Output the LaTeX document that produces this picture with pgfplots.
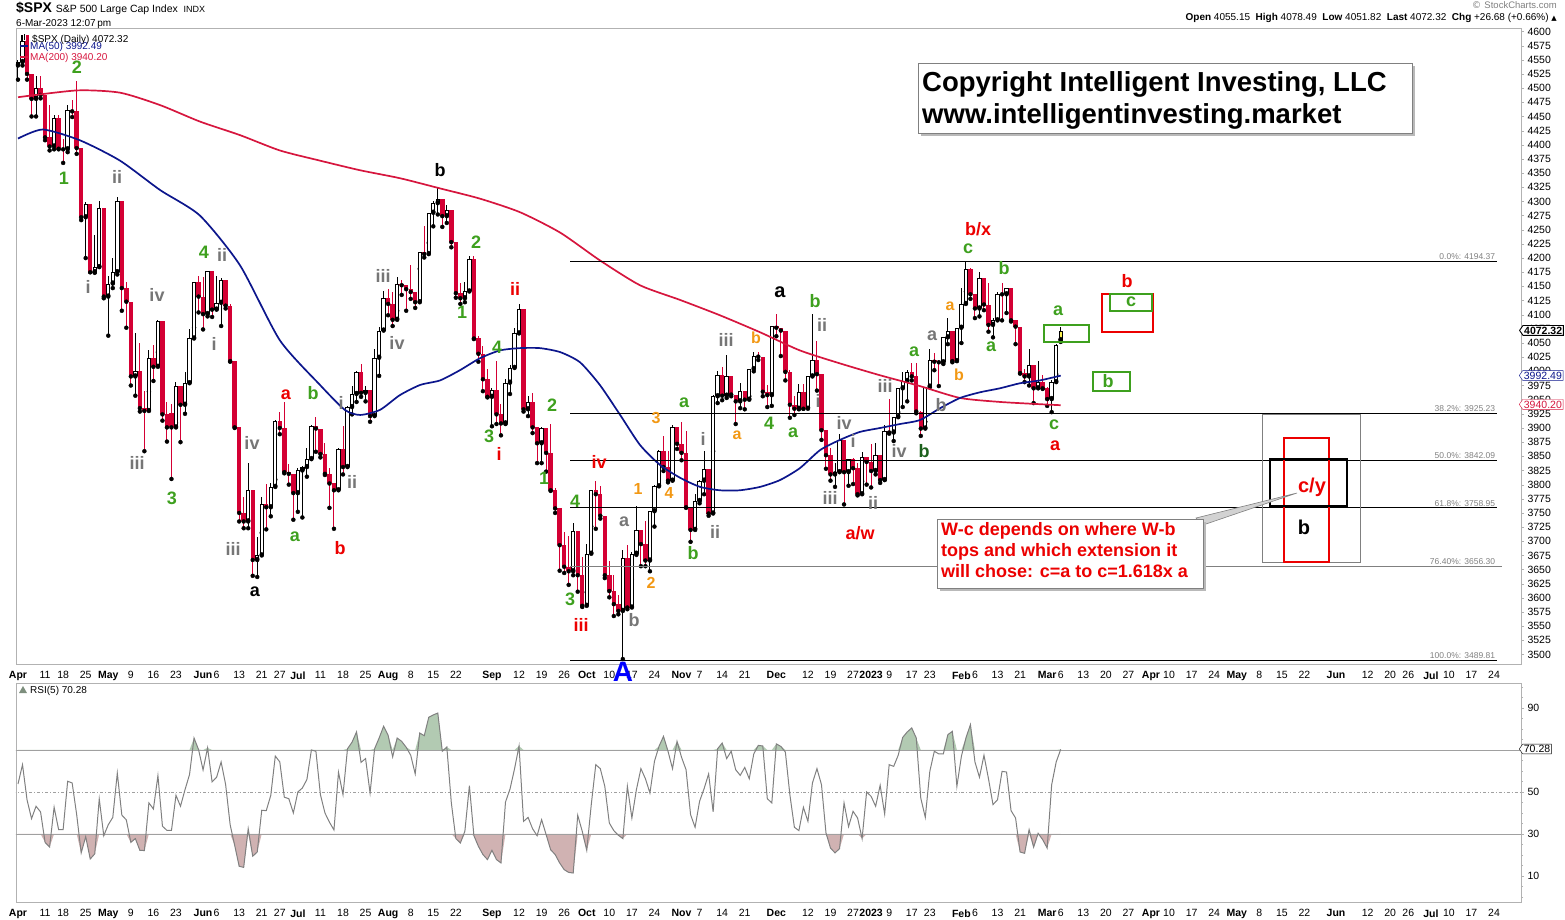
\documentclass[border=0pt]{standalone}
\usepackage{pgfplots}
\pgfplotsset{compat=1.18}
\usepackage{pgfplotstable}
\usetikzlibrary{shapes.symbols}
\usepackage{fontspec}
\setmainfont{Liberation Sans}
\newfontfamily\djv{DejaVu Sans}

\definecolor{cred}{RGB}{212,0,52}
\definecolor{ma50}{RGB}{12,22,140}
\definecolor{ma200}{RGB}{214,22,62}
\definecolor{wgreen}{RGB}{62,160,30}
\definecolor{wgrey}{RGB}{118,118,118}
\definecolor{wred}{RGB}{236,0,0}
\definecolor{worange}{RGB}{242,152,20}
\definecolor{wdgreen}{RGB}{28,96,28}
\definecolor{framec}{RGB}{178,178,178}
\definecolor{rsigreen}{RGB}{178,202,178}
\definecolor{rsired}{RGB}{208,178,178}
\definecolor{lastbar}{RGB}{250,240,80}

% daily $SPX candles (index = trading day from 1-Apr-2022), open = prior close
\pgfplotstableread{
i o h l c
0 4540 4550 4515 4546
1 4546 4593 4540 4583
2 4583 4590 4515 4525
3 4525 4504 4450 4481
4 4481 4521 4450 4500
5 4500 4521 4482 4488
6 4488 4463 4408 4413
7 4413 4471 4390 4397
8 4397 4453 4392 4447
9 4447 4453 4392 4393
10 4393 4410 4368 4392
11 4392 4471 4387 4462
12 4462 4479 4449 4459
13 4459 4513 4384 4394
14 4394 4385 4267 4272
15 4272 4299 4200 4296
16 4296 4279 4175 4175
17 4175 4240 4174 4184
18 4184 4300 4185 4288
19 4288 4269 4129 4132
20 4132 4169 4063 4155
21 4155 4200 4147 4175
22 4175 4308 4171 4300
23 4300 4270 4107 4147
24 4147 4158 4077 4123
25 4123 4082 3975 3991
26 3991 4068 3957 4001
27 4001 4050 3929 3935
28 3935 3965 3859 3930
29 3930 4038 3964 4024
30 4024 4047 3983 4008
31 4008 4091 4034 4089
32 4089 4052 3913 3924
33 3924 3946 3876 3901
34 3927 3943 3810 3901
35 3901 3981 3909 3974
36 3974 3955 3875 3941
37 3941 3999 3925 3979
38 3979 4075 3984 4058
39 4058 4158 4077 4158
40 4158 4168 4104 4132
41 4132 4166 4074 4101
42 4101 4178 4097 4177
43 4177 4143 4096 4109
44 4109 4169 4110 4121
45 4121 4164 4080 4161
46 4161 4150 4111 4116
47 4116 4119 4017 4018
48 4018 3976 3900 3901
49 3901 3838 3735 3750
50 3750 3779 3723 3735
51 3735 3838 3723 3790
52 3790 3728 3639 3667
53 3667 3708 3637 3675
54 3675 3779 3715 3765
55 3765 3801 3721 3760
56 3760 3802 3744 3796
57 3796 3914 3809 3912
58 3912 3928 3889 3900
59 3900 3945 3820 3822
60 3822 3837 3800 3819
61 3819 3818 3738 3785
62 3785 3829 3752 3825
63 3825 3832 3742 3831
64 3831 3865 3814 3845
65 3845 3906 3858 3903
66 3903 3919 3858 3899
67 3899 3880 3848 3854
68 3854 3874 3817 3819
69 3819 3829 3759 3802
70 3802 3796 3722 3790
71 3790 3864 3817 3863
72 3863 3903 3818 3831
73 3831 3939 3860 3937
74 3937 3975 3924 3960
75 3960 4000 3946 3999
76 3999 4013 3955 3962
77 3962 3975 3947 3967
78 3967 3954 3911 3921
79 3921 4040 3951 4024
80 4024 4079 3992 4072
81 4072 4141 4080 4130
82 4130 4145 4099 4119
83 4119 4140 4080 4091
84 4091 4167 4107 4155
85 4155 4161 4135 4152
86 4152 4151 4107 4145
87 4145 4187 4128 4140
88 4140 4138 4112 4122
89 4122 4211 4181 4210
90 4210 4257 4201 4207
91 4207 4280 4227 4280
92 4280 4301 4256 4297
93 4297 4325 4277 4305
94 4305 4303 4255 4274
95 4274 4293 4262 4284
96 4284 4258 4219 4228
97 4228 4195 4130 4138
98 4138 4156 4119 4129
99 4129 4157 4122 4141
100 4141 4203 4154 4199
101 4199 4203 4057 4058
102 4058 4062 4017 4031
103 4031 4044 3965 3986
104 3986 4005 3954 3955
105 3955 3970 3903 3967
106 3967 4018 3907 3924
107 3924 3942 3887 3908
108 3908 3987 3907 3980
109 3980 4011 3960 4006
110 4006 4077 4023 4067
111 4067 4119 4084 4110
112 4110 4062 3929 3933
113 3933 3956 3921 3946
114 3946 3961 3891 3901
115 3901 3880 3838 3873
116 3873 3901 3838 3900
117 3900 3876 3823 3856
118 3856 3907 3789 3790
119 3790 3794 3750 3758
120 3758 3727 3648 3693
121 3693 3716 3644 3655
122 3655 3710 3623 3647
123 3647 3733 3640 3719
124 3719 3687 3611 3640
125 3640 3672 3584 3586
126 3586 3696 3610 3678
127 3678 3791 3726 3791
128 3791 3807 3722 3783
129 3783 3798 3740 3745
130 3745 3712 3635 3640
131 3640 3665 3601 3612
132 3612 3640 3568 3589
133 3589 3606 3571 3577
134 3577 3685 3492 3670
135 3670 3694 3580 3583
136 3583 3681 3633 3678
137 3678 3763 3676 3720
138 3720 3720 3656 3695
139 3695 3736 3656 3666
140 3666 3753 3647 3753
141 3753 3799 3726 3797
142 3797 3862 3799 3859
143 3859 3886 3824 3831
144 3831 3859 3804 3807
145 3807 3906 3808 3901
146 3901 3893 3863 3872
147 3872 3911 3843 3856
148 3856 3894 3759 3760
149 3760 3750 3699 3720
150 3720 3783 3722 3771
151 3771 3808 3767 3807
152 3807 3860 3783 3828
153 3828 3818 3745 3749
154 3749 3958 3859 3956
155 3956 4001 3944 3993
156 3993 4008 3949 3957
157 3957 4028 3953 3992
158 3992 3984 3956 3959
159 3959 3954 3907 3947
160 3947 3979 3935 3965
161 3965 3962 3933 3950
162 3950 4005 3956 4004
163 4004 4034 4000 4027
164 4027 4035 4020 4026
165 4026 4013 3956 3964
166 3964 3976 3937 3958
167 3958 4080 3939 4080
168 4080 4101 4062 4077
169 4077 4076 4027 4072
170 4072 4052 3984 3999
171 3999 4002 3918 3941
172 3941 3957 3923 3934
173 3934 3977 3933 3964
174 3964 3978 3934 3934
175 3934 3991 3936 3991
176 3991 4101 3993 4020
177 4020 4053 3966 3995
178 3995 3947 3879 3896
179 3896 3876 3828 3852
180 3852 3864 3807 3818
181 3818 3839 3796 3822
182 3822 3889 3839 3878
183 3878 3877 3765 3822
184 3822 3846 3798 3845
185 3845 3847 3801 3829
186 3829 3838 3781 3783
187 3783 3858 3806 3849
188 3849 3840 3800 3840
189 3840 3872 3795 3824
190 3824 3874 3818 3853
191 3853 3839 3803 3808
192 3808 3906 3809 3895
193 3895 3951 3890 3892
194 3892 3919 3877 3919
195 3919 3970 3928 3970
196 3970 3998 3937 3983
197 3983 4003 3947 3999
198 3999 4015 3984 3991
199 3991 4015 3926 3929
200 3929 3930 3886 3899
201 3899 3973 3911 3973
202 3973 4039 3972 4020
203 4020 4033 4002 4017
204 4017 4020 3974 4016
205 4016 4061 4013 4060
206 4060 4095 4048 4071
207 4071 4063 4016 4018
208 4018 4077 4021 4077
209 4077 4148 4050 4119
210 4119 4195 4141 4180
211 4180 4183 4128 4136
212 4136 4124 4094 4111
213 4111 4176 4097 4164
214 4164 4154 4108 4118
215 4118 4156 4070 4082
216 4082 4095 4060 4090
217 4090 4140 4096 4137
218 4137 4156 4090 4136
219 4136 4148 4103 4148
220 4148 4136 4088 4090
221 4090 4084 4048 4079
222 4079 4050 3996 3997
223 3997 4004 3981 3991
224 3991 4040 3975 4012
225 4012 3982 3944 3970
226 3970 4018 3973 3982
227 3982 3994 3969 3970
228 3970 3972 3939 3951
229 3951 3984 3928 3981
230 3981 4048 3995 4046
231 4055 4078 4052 4072
}\spx

% MA(50) read off the chart
\pgfplotstableread{
i m
0 4411
5.5 4427
13.7 4408
22.6 4372
31.5 4320
40.3 4275
49.2 4187
58.0 4055
66.9 3976
72.4 3932
75.8 3923
80.2 3932
84.6 3958
89.1 3976
93.5 3984
97.9 4002
102.3 4023
106.8 4037
111.2 4041
115.6 4041
120.1 4034
124.5 4016
128.9 3976
133.4 3923
137.8 3870
142.2 3835
146.7 3812
151.1 3796
155.5 3790
159.9 3790
164.4 3796
168.8 3808
173.2 3829
177.7 3861
182.1 3879
186.5 3893
191.0 3900
195.4 3907
199.8 3914
204.3 3935
208.7 3953
213.1 3963
217.5 3970
222.0 3979
226.4 3984
231 3992.49
}\maFifty

% MA(200) read off the chart
\pgfplotstableread{
i m
0 4484
13.1 4496
22.6 4492
31.5 4470
40.3 4441
49.2 4417
58.0 4390
66.9 4372
75.8 4355
84.6 4341
93.5 4323
102.3 4305
111.2 4281
120.1 4245
128.9 4196
137.8 4152
146.7 4126
155.5 4099
164.4 4069
173.2 4037
182.1 4014
191.0 3993
199.8 3974
208.7 3953
217.5 3946
226.4 3942
231 3940.20
}\maTwoHundred

% RSI(5)
\pgfplotstableread{
i r
0 53.8
1 63.0
2 46.3
3 37.3
4 43.2
5 40.5
6 26.0
7 23.8
8 42.7
9 32.1
10 32.1
11 55.1
12 54.3
13 39.2
14 21.0
15 28.7
16 18.1
17 20.5
18 46.7
19 29.2
20 34.4
21 37.9
22 59.0
23 39.0
24 36.7
25 26.0
26 27.8
27 22.2
28 22.1
29 44.8
30 41.9
31 57.8
32 33.7
33 31.7
34 31.7
35 48.4
36 43.2
37 51.1
38 58.3
39 75.7
40 70.2
41 60.5
42 71.0
43 54.8
44 57.0
45 64.3
46 53.5
47 34.4
48 24.6
49 14.6
50 14.1
51 32.5
52 19.4
53 21.4
54 41.3
55 41.1
56 48.4
57 67.1
58 64.3
59 47.5
60 46.8
61 40.0
62 50.0
63 51.9
64 55.9
65 70.0
66 69.4
67 48.7
68 40.0
69 35.6
70 31.9
71 59.4
72 48.7
73 70.6
74 73.7
75 78.6
76 64.1
77 65.9
78 49.5
79 70.6
80 75.7
81 81.3
82 77.0
83 66.7
84 75.7
85 74.1
86 71.3
87 67.5
88 58.6
89 78.1
90 76.8
91 85.6
92 86.7
93 87.6
94 69.4
95 71.4
96 44.8
97 27.8
98 25.7
99 31.3
100 53.0
101 29.2
102 24.1
103 20.2
104 17.8
105 22.2
106 17.8
107 16.2
108 45.2
109 51.4
110 61.0
111 71.9
112 36.0
113 37.9
114 32.5
115 29.2
116 36.8
117 29.7
118 22.5
119 20.2
120 16.2
121 13.0
122 11.7
123 11.4
124 38.9
125 31.3
126 22.2
127 44.0
128 63.0
129 61.1
130 52.7
131 35.2
132 31.6
133 29.4
134 27.8
135 52.7
136 37.6
137 51.1
138 61.1
139 56.3
140 49.5
141 64.6
142 71.7
143 76.5
144 69.4
145 61.1
146 74.1
147 66.5
148 60.6
149 39.2
150 33.2
151 45.6
152 51.6
153 58.6
154 40.5
155 70.6
156 73.3
157 65.9
158 69.4
159 60.6
160 57.9
161 61.7
162 56.3
163 68.1
164 72.2
165 71.9
166 46.8
167 44.8
168 72.9
169 71.7
170 69.0
171 48.7
172 33.2
173 31.6
174 42.7
175 36.0
176 54.3
177 61.1
178 53.5
179 30.5
180 23.3
181 21.0
182 23.0
183 44.8
184 33.5
185 40.8
186 37.6
187 27.8
188 50.0
189 47.9
190 43.2
191 53.2
192 39.5
193 63.0
194 62.2
195 67.5
196 76.0
197 78.6
198 80.5
199 75.7
200 47.1
201 37.9
202 59.8
203 69.4
204 68.1
205 68.1
206 77.3
207 78.9
208 52.7
209 67.0
210 75.7
211 82.1
212 64.3
213 57.0
214 67.5
215 56.3
216 44.0
217 46.3
218 59.8
219 59.5
220 41.1
221 37.6
222 21.4
223 20.8
224 32.1
225 23.7
226 30.3
227 27.3
228 23.3
229 53.5
230 64.3
231 70.28
}\rsitab

\pgfplotsset{
  datebar/.style={
    xmin=-0.443, xmax=332.97,
    xtick={0,6,10,15,20,25,30,35,41,44,49,54,58,62,67,72,77,82,87,92,97,105,111,116,121,126,131,136,141,147,151,156,161,168,175,180,185,189,193,198,202,209,212,217,222,228,231,236,241,246,251,255,260,265,270,275,280,285,292,299,304,308,313,317,322,327},
    xticklabels={\textbf{Apr},11,18,25,\textbf{May},9,16,23,\textbf{Jun},6,13,21,27,\textbf{Jul},11,18,25,\textbf{Aug},8,15,22,\textbf{Sep},12,19,26,\textbf{Oct},10,17,24,\textbf{Nov},7,14,21,\textbf{Dec},12,19,27,\textbf{2023},9,17,23,\textbf{Feb},6,13,21,\textbf{Mar},6,13,20,27,\textbf{Apr},10,17,24,\textbf{May},8,15,22,\textbf{Jun},12,20,26,\textbf{Jul},10,17,24},
    xtick style={draw=none},
    xticklabel style={font=\fontsize{10.5}{12}\selectfont, yshift=-1pt},
    axis line style={draw=framec},
    ytick pos=right, yticklabel pos=right,
    tick align=outside, major tick length=3pt,
    ytick style={draw=framec},
    yticklabel style={font=\fontsize{10.5}{12}\selectfont, /pgf/number format/1000 sep={}, /pgf/number format/assume math mode=true},
    scale only axis, width=1505pt, anchor=south west,
  },
  candle/.style={only marks, mark=none, error bars/y dir=plus, error bars/y explicit, error bars/error mark=none, error bars/error bar style={#1}},
}

\newcommand\wl[5][18]{\node[text=#2,font=\bfseries\fontsize{#1}{#1}\selectfont,inner sep=0pt] at ({#3pt},{919pt-#4pt}) {#5};}

\begin{document}
\begin{tikzpicture}
\useasboundingbox (0pt,0pt) rectangle (1565pt,919pt);

% ---------------- price panel ----------------
\begin{axis}[datebar,
  at={(16pt,255pt)}, height=636pt,
  ymin=3483.3, ymax=4606.2,
  ytick={3500,3525,...,4600},
  clip mode=individual]

% up candles: black hollow
\addplot[candle={line width=1pt, black}, restrict expr to domain={\thisrow{c}-\thisrow{o}}{0:100000}]
  table[x=i, y=l, y error plus expr=\thisrow{h}-\thisrow{l}]{\spx};
\addplot[candle={line width=4.4pt, black}, restrict expr to domain={\thisrow{c}-\thisrow{o}}{0:100000}]
  table[x=i, y=o, y error plus expr={max(\thisrow{c}-\thisrow{o},1.8)}]{\spx};
\addplot[candle={line width=2.4pt, white}, restrict expr to domain={\thisrow{c}-\thisrow{o}}{0:100000}]
  table[x=i, y expr=\thisrow{o}+1.77, y error plus expr={max(\thisrow{c}-\thisrow{o}-3.54,0)}]{\spx};
% current (intraday) bar highlighted
\addplot[candle={line width=2.4pt, lastbar}, restrict x to domain=230.5:231.5]
  table[x=i, y expr=\thisrow{o}+1.77, y error plus expr={max(\thisrow{c}-\thisrow{o}-3.54,0)}]{\spx};
% down candles: red filled
\addplot[candle={line width=1pt, cred}, restrict expr to domain={\thisrow{c}-\thisrow{o}}{-100000:-0.5}]
  table[x=i, y=l, y error plus expr=\thisrow{h}-\thisrow{l}]{\spx};
\addplot[candle={line width=4.4pt, cred}, restrict expr to domain={\thisrow{c}-\thisrow{o}}{-100000:-0.5}]
  table[x=i, y=c, y error plus expr=\thisrow{o}-\thisrow{c}]{\spx};

% moving averages
\addplot[ma200, line width=1.7pt, smooth, tension=0.4] table[x=i, y=m]{\maTwoHundred};
\addplot[ma50, line width=1.7pt, smooth, tension=0.4] table[x=i, y=m]{\maFifty};

% Fibonacci retracement levels
\addplot[black, line width=0.9pt] coordinates {(122.3,4194.37) (327.6,4194.37)};
\addplot[black, line width=0.9pt] coordinates {(122.3,3925.23) (327.6,3925.23)};
\addplot[black, line width=0.9pt] coordinates {(122.3,3842.09) (327.6,3842.09)};
\addplot[black, line width=0.9pt] coordinates {(122.3,3758.95) (327.6,3758.95)};
\addplot[gray, line width=0.9pt] coordinates {(122.3,3656.30) (328.8,3656.30)};
\addplot[black, line width=0.9pt] coordinates {(122.3,3489.81) (327.6,3489.81)};
\begin{scope}[every node/.style={anchor=south east, text=gray, font=\fontsize{8.5}{9}\selectfont, inner sep=1.5pt}]
\node at (axis cs:327.6,4194.37) {0.0\%: 4194.37};
\node at (axis cs:327.6,3925.23) {38.2\%: 3925.23};
\node at (axis cs:327.6,3842.09) {50.0\%: 3842.09};
\node at (axis cs:327.6,3758.95) {61.8\%: 3758.95};
\node at (axis cs:327.6,3656.30) {76.40\%: 3656.30};
\node at (axis cs:327.6,3489.81) {100.0\%: 3489.81};
\end{scope}
\end{axis}

% ---------------- RSI panel ----------------
\begin{axis}[datebar,
  at={(16pt,17pt)}, height=219pt,
  ymin=-2.4, ymax=101.9,
  ytick={10,30,50,90}, minor ytick={0,5,...,100},
  minor tick length=2pt, minor tick style={draw=framec}]
% overbought / oversold shading
\addplot[fill=rsigreen, draw=none] table[x=i, y expr={max(\thisrow{r},70)}]{\rsitab} |- (axis cs:0,70) -- cycle;
\addplot[fill=rsired, draw=none] table[x=i, y expr={min(\thisrow{r},30)}]{\rsitab} |- (axis cs:0,30) -- cycle;
\addplot[framec!90!black, line width=0.9pt] coordinates {(-1,70) (334,70)};
\addplot[framec!90!black, line width=0.9pt] coordinates {(-1,30) (334,30)};
\addplot[framec!90!black, line width=0.9pt, dash dot] coordinates {(-1,50) (334,50)};
\addplot[gray, line width=1pt] table[x=i, y=r]{\rsitab};
\end{axis}

% ---------------- header ----------------
\node[anchor=base west, inner sep=0pt] at (16pt,906pt) {\bfseries\fontsize{14}{14}\selectfont\$SPX\ \mdseries\fontsize{10.5}{12}\selectfont S\&P 500 Large Cap Index\ \ \fontsize{9}{10}\selectfont INDX};
\node[anchor=base west, inner sep=0pt] at (16pt,892pt) {\fontsize{10}{12}\selectfont 6-Mar-2023 12:07\,pm};
\node[anchor=base east, inner sep=0pt, text=gray] at (1557pt,910pt) {\fontsize{9.5}{10}\selectfont\djv ©\ \rmfamily StockCharts.com};
\node[anchor=base east, inner sep=0pt] at (1557pt,898pt) {\fontsize{10}{12}\selectfont\textbf{Open} 4055.15\ \ \textbf{High} 4078.49\ \ \textbf{Low} 4051.82\ \ \textbf{Last} 4072.32\ \ \textbf{Chg} +26.68 (+0.66\%) {\djv\fontsize{7}{8}\selectfont ▲}};

% legends
\draw[black, line width=0.8pt] (21pt,877pt) -- (21pt,884pt) (24pt,879pt) -- (24pt,885pt);
\fill[cred] (26pt,877pt) rectangle (29pt,884pt);
\node[anchor=base west, inner sep=0pt] at (32pt,876pt) {\fontsize{10}{12}\selectfont\$SPX (Daily) 4072.32};
\draw[ma50, line width=1.6pt] (20pt,873pt) -- (28pt,873pt);
\node[anchor=base west, inner sep=0pt, text=ma50] at (30pt,869pt) {\fontsize{10}{12}\selectfont MA(50) 3992.49};
\draw[ma200, line width=1.6pt] (20pt,862pt) -- (28pt,862pt);
\node[anchor=base west, inner sep=0pt, text=ma200] at (30pt,858pt) {\fontsize{10}{12}\selectfont MA(200) 3940.20};
\fill[rsigreen!70!black] (19pt,226pt) -- (23pt,233pt) -- (27pt,226pt) -- cycle;
\node[anchor=base west, inner sep=0pt] at (30pt,226pt) {\fontsize{10}{12}\selectfont RSI(5) 70.28};

% value tags on the right scale
\begin{scope}[every node/.style={signal, signal to=west, signal pointer angle=110, fill=white, inner sep=1.2pt, anchor=west, font=\fontsize{10.5}{12}\selectfont}]
\node[draw=black, line width=0.9pt] at (1519pt,{919pt-330.4pt}) {\bfseries 4072.32};
\node[draw=ma50, text=ma50] at (1519pt,{919pt-375.5pt}) {3992.49};
\node[draw=ma200, text=ma200] at (1519pt,{919pt-404.4pt}) {3940.20};
\node[draw=black] at (1519pt,{919pt-749pt}) {70.28};
\end{scope}

% copyright box
\fill[gray!55] (921pt,{919pt-136pt}) rectangle (1415pt,{919pt-66pt});
\draw[gray, fill=white] (918pt,{919pt-133pt}) rectangle (1412pt,{919pt-63pt});
\node[anchor=base west, inner sep=0pt] at (922pt,{919pt-92pt}) {\bfseries\fontsize{27.5}{28}\selectfont Copyright Intelligent Investing, LLC};
\node[anchor=base west, inner sep=0pt] at (922pt,{919pt-124pt}) {\bfseries\fontsize{27.5}{28}\selectfont www.intelligentinvesting.market};

% projection boxes
\draw[gray, line width=1pt] (1262pt,{919pt-415pt}) rectangle (1360pt,{919pt-563pt});
\draw[wred, line width=1.3pt] (1284pt,{919pt-438pt}) rectangle (1329pt,{919pt-562pt});
\draw[black, line width=2.6pt] (1270pt,{919pt-459pt}) rectangle (1347pt,{919pt-506pt});
\draw[wred, line width=1.3pt] (1102pt,{919pt-294pt}) rectangle (1153pt,{919pt-332pt});
\draw[wgreen, line width=1.3pt] (1110pt,{919pt-294pt}) rectangle (1152pt,{919pt-311pt});
\draw[wgreen, line width=1.3pt] (1093pt,{919pt-372pt}) rectangle (1130pt,{919pt-391pt});
\draw[wgreen, line width=1.3pt] (1044pt,{919pt-325pt}) rectangle (1089pt,{919pt-342pt});

% callout
\fill[gray!35, draw=gray, line width=0.6pt] (1196pt,{919pt-518pt}) -- (1297pt,{919pt-493pt}) -- (1203pt,{919pt-525pt}) -- cycle;
\fill[gray!55] (940pt,{919pt-591pt}) rectangle (1206pt,{919pt-522pt});
\draw[gray, fill=white] (937pt,{919pt-588pt}) rectangle (1203pt,{919pt-519pt});
\node[anchor=north west, align=left, text=wred, inner sep=0pt, font=\bfseries\fontsize{18}{21}\selectfont] at (941pt,{919pt-522pt})
  {W-c depends on where W-b\\tops and which extension it\\will chose: c=a to c=1.618x a};

% wave labels
\wl{wgreen}{77}{67}{2}
\wl{wgreen}{64}{178}{1}
\wl{wgrey}{117}{177}{ii}
\wl{wgrey}{88}{287}{i}
\wl{wgrey}{157}{295}{iv}
\wl{wgrey}{137}{463}{iii}
\wl{wgreen}{172}{498}{3}
\wl{wgreen}{204}{252}{4}
\wl{wgrey}{222}{255}{ii}
\wl{wgrey}{214}{344}{i}
\wl{wgrey}{252}{443}{iv}
\wl{wgrey}{233}{549}{iii}
\wl{black}{255}{592}{a}
\wl{wred}{286}{395}{a}
\wl{wgreen}{313}{393}{b}
\wl{wgrey}{341}{403}{i}
\wl{wgrey}{352}{482}{ii}
\wl{wgreen}{295}{537}{a}
\wl{wred}{340}{548}{b}
\wl{black}{440}{170}{b}
\wl{wgrey}{383}{276}{iii}
\wl{wgrey}{397}{343}{iv}
\wl{wgreen}{476}{242}{2}
\wl{wgreen}{462}{312}{1}
\wl{wgreen}{497}{347}{4}
\wl{wred}{515}{289}{ii}
\wl{wgreen}{489}{436}{3}
\wl{wred}{499}{454}{i}
\wl{wgreen}{552}{405}{2}
\wl{wgreen}{544}{478}{1}
\wl{wgreen}{575}{501}{4}
\wl{wred}{599}{462}{iv}
\wl{wgreen}{570}{599}{3}
\wl{wred}{581}{625}{iii}
\wl{wgrey}{624}{522}{a}
\wl{wgrey}{634}{620}{b}
\wl[16]{worange}{656}{418}{3}
\wl[16]{worange}{638}{489}{1}
\wl[16]{worange}{669}{493}{4}
\wl[16]{worange}{651}{583}{2}
\wl{wgreen}{684}{403}{a}
\wl{wgrey}{703}{439}{i}
\wl{wgreen}{693}{553}{b}
\wl{wgrey}{715}{532}{ii}
\wl{wgrey}{726}{340}{iii}
\wl[16]{worange}{737}{435}{a}
\wl[16]{worange}{756}{338}{b}
\wl{wgreen}{769}{423}{4}
\wl[20]{black}{780}{292}{a}
\wl{wgreen}{793}{433}{a}
\wl{wgreen}{815}{301}{b}
\wl{wgrey}{822}{325}{ii}
\wl{wgrey}{818}{401}{i}
\wl{wgrey}{844}{423}{iv}
\wl{wgrey}{853}{441}{i}
\wl{wgrey}{830}{498}{iii}
\wl{wgrey}{873}{503}{ii}
\wl{wred}{860}{533}{a/w}
\wl{wgrey}{885}{386}{iii}
\wl{wgreen}{914}{352}{a}
\wl{wgrey}{899}{451}{iv}
\wl{wdgreen}{924}{451}{b}
\wl{wgrey}{932}{336}{a}
\wl{wgrey}{941}{405}{b}
\wl[16]{worange}{950}{306}{a}
\wl[16]{worange}{959}{375}{b}
\wl{wgreen}{968}{249}{c}
\wl{wred}{978}{229}{b/x}
\wl{wgreen}{1004}{268}{b}
\wl{wgreen}{991}{347}{a}
\wl{wgreen}{1058}{311}{a}
\wl{wgreen}{1054}{425}{c}
\wl{wred}{1055}{446}{a}
\wl{wred}{1127}{281}{b}
\wl{wgreen}{1131}{302}{c}
\wl{wgreen}{1108}{381}{b}
\wl[20]{wred}{1312}{487}{c/y}
\wl[20]{black}{1304}{527}{b}
\node[text=blue, font=\bfseries\fontsize{28}{28}\selectfont, inner sep=0pt] at (623pt,{919pt-672pt}) {A};
\end{tikzpicture}
\end{document}
